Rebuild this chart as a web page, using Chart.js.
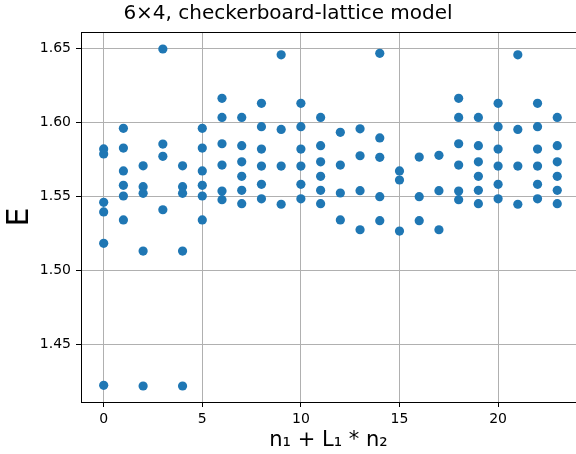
<!DOCTYPE html>
<html>
<head>
<meta charset="utf-8">
<script src="https://cdn.jsdelivr.net/npm/chart.js@4.4.1/dist/chart.umd.min.js"></script>
<style>
  html, body { margin: 0; padding: 0; background: #fff; }
  #wrap { width: 576px; height: 454px; }
</style>
</head>
<body>
<div id="wrap"><canvas id="grafica"></canvas></div>
<script>
// datos: indice n1 + L1*n2 y energia E
const nIdx = [
  0, 0, 0, 0, 0, 0,
  1, 1, 1, 1, 1, 1,
  2, 2, 2, 2, 2,
  3, 3, 3, 3,
  4, 4, 4, 4, 4,
  5, 5, 5, 5, 5, 5,
  6, 6, 6, 6, 6, 6,
  7, 7, 7, 7, 7, 7,
  8, 8, 8, 8, 8, 8,
  9, 9, 9, 9,
  10, 10, 10, 10, 10, 10,
  11, 11, 11, 11, 11, 11,
  12, 12, 12, 12,
  13, 13, 13, 13,
  14, 14, 14, 14, 14,
  15, 15, 15,
  16, 16, 16,
  17, 17, 17,
  18, 18, 18, 18, 18, 18,
  19, 19, 19, 19, 19, 19,
  20, 20, 20, 20, 20, 20,
  21, 21, 21, 21,
  22, 22, 22, 22, 22, 22,
  23, 23, 23, 23, 23, 23
];
const energia = [
  1.5823, 1.5789, 1.5462, 1.5397, 1.5185, 1.4226,
  1.5962, 1.5829, 1.5674, 1.5577, 1.5505, 1.5343,
  1.5709, 1.5568, 1.5523, 1.5133, 1.4221,
  1.6498, 1.5856, 1.5773, 1.5412,
  1.5709, 1.5568, 1.5523, 1.5133, 1.4221,
  1.5962, 1.5829, 1.5674, 1.5577, 1.5505, 1.5343,
  1.6165, 1.6036, 1.5858, 1.5714, 1.5538, 1.5480,
  1.6036, 1.5845, 1.5736, 1.5638, 1.5543, 1.5453,
  1.6131, 1.5973, 1.5822, 1.5707, 1.5584, 1.5486,
  1.6459, 1.5955, 1.5707, 1.5449,
  1.6131, 1.5973, 1.5822, 1.5707, 1.5584, 1.5486,
  1.6036, 1.5845, 1.5736, 1.5638, 1.5543, 1.5453,
  1.5935, 1.5714, 1.5525, 1.5343,
  1.5959, 1.5777, 1.5541, 1.5277,
  1.6469, 1.5897, 1.5766, 1.5500, 1.5338,
  1.5674, 1.5613, 1.5268,
  1.5768, 1.5500, 1.5338,
  1.5780, 1.5541, 1.5277,
  1.6165, 1.6036, 1.5858, 1.5714, 1.5538, 1.5480,
  1.6036, 1.5845, 1.5736, 1.5638, 1.5543, 1.5453,
  1.6131, 1.5973, 1.5822, 1.5707, 1.5584, 1.5486,
  1.6459, 1.5955, 1.5707, 1.5449,
  1.6131, 1.5973, 1.5822, 1.5707, 1.5584, 1.5486,
  1.6036, 1.5845, 1.5736, 1.5638, 1.5543, 1.5453
];
const xTicks = [0, 5, 10, 15, 20];
const yTicks = [1.45, 1.50, 1.55, 1.60, 1.65];

const puntos = nIdx.map((n, i) => ({ x: n, y: energia[i] }));
const fuente = 'DejaVu Sans';

const g = document.getElementById('grafica').getContext('2d');

const grafica = new Chart(g, {
    type: 'scatter',
    data: {
        datasets: [{
            data: puntos,
            backgroundColor: '#1f77b4',
            borderColor: '#1f77b4',
            borderWidth: 0,
            pointRadius: 4.6,
            pointHoverRadius: 4.6
        }]
    },
    options: {
        responsive: true,
        maintainAspectRatio: false,
        animation: false,
        layout: { padding: 0, autoPadding: false },
        plugins: {
            legend: { display: false },
            tooltip: { enabled: false },
            title: {
                display: true,
                text: '6×4, checkerboard-lattice model',
                color: '#000',
                font: { family: fuente, size: 20, weight: 'normal' },
                padding: { top: 1.3, bottom: 6.7 }
            }
        },
        scales: {
            x: {
                type: 'linear',
                position: 'bottom',
                min: -1.15,
                max: 23.95,
                afterFit: s => { s.height = 52; },
                afterBuildTicks: s => { s.ticks = xTicks.map(v => ({ value: v })); },
                grid: { color: '#b0b0b0', lineWidth: 1, tickColor: '#000', tickLength: 5 },
                border: { color: '#000', width: 1 },
                ticks: {
                    color: '#000',
                    padding: 4,
                    font: { family: fuente, size: 14 },
                    callback: v => String(v)
                },
                title: {
                    display: true,
                    text: 'n₁ + L₁ * n₂',
                    color: '#000',
                    font: { family: fuente, size: 21 },
                    padding: { top: 0, bottom: 0.5 }
                }
            },
            xArriba: {
                type: 'linear',
                position: 'top',
                min: -1.15,
                max: 23.95,
                afterFit: s => { s.height = 0; },
                grid: { display: true, drawOnChartArea: false, drawTicks: false },
                border: { color: '#000', width: 1 },
                ticks: { display: false }
            },
            y: {
                type: 'linear',
                min: 1.4113,
                max: 1.6613,
                afterFit: s => { s.width = 81; },
                afterBuildTicks: s => { s.ticks = yTicks.map(v => ({ value: v })); },
                grid: { color: '#b0b0b0', lineWidth: 1, tickColor: '#000', tickLength: 5 },
                border: { color: '#000', width: 1 },
                ticks: {
                    color: '#000',
                    padding: 5,
                    font: { family: fuente, size: 14 },
                    callback: v => v.toFixed(2)
                },
                title: {
                    display: true,
                    text: 'E',
                    color: '#000',
                    font: { family: fuente, size: 30 },
                    padding: { top: 2, bottom: 0 }
                }
            }
        }
    }
});
</script>
</body>
</html>
